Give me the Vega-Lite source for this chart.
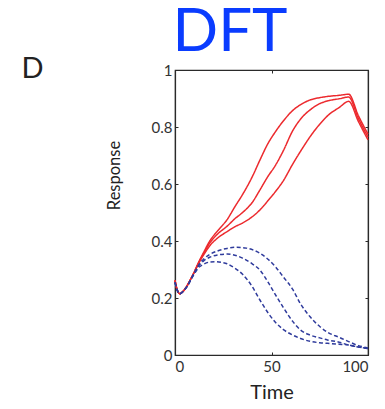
{
  "$schema": "https://vega.github.io/schema/vega-lite/v6.json",
  "width": 193,
  "height": 285,
  "autosize": "none",
  "padding": {"left": 175, "top": 70, "right": 17, "bottom": 54},
  "datasets": {
    "curves": [
      {"s": "R1", "g": "red", "x": 0, "y": 0.262}, {"s": "R1", "g": "red", "x": 1, "y": 0.232}, {"s": "R1", "g": "red", "x": 2.5, "y": 0.215}, {"s": "R1", "g": "red", "x": 4, "y": 0.222}, {"s": "R1", "g": "red", "x": 6, "y": 0.24}, {"s": "R1", "g": "red", "x": 8, "y": 0.265}, {"s": "R1", "g": "red", "x": 10, "y": 0.292},
      {"s": "R1", "g": "red", "x": 12, "y": 0.322}, {"s": "R1", "g": "red", "x": 15, "y": 0.362}, {"s": "R1", "g": "red", "x": 18, "y": 0.4}, {"s": "R1", "g": "red", "x": 22, "y": 0.435}, {"s": "R1", "g": "red", "x": 27, "y": 0.475}, {"s": "R1", "g": "red", "x": 31, "y": 0.52}, {"s": "R1", "g": "red", "x": 35, "y": 0.563}, {"s": "R1", "g": "red", "x": 40, "y": 0.625}, {"s": "R1", "g": "red", "x": 44, "y": 0.684}, {"s": "R1", "g": "red", "x": 48, "y": 0.74}, {"s": "R1", "g": "red", "x": 52, "y": 0.783}, {"s": "R1", "g": "red", "x": 56, "y": 0.82}, {"s": "R1", "g": "red", "x": 61, "y": 0.858}, {"s": "R1", "g": "red", "x": 66, "y": 0.882}, {"s": "R1", "g": "red", "x": 70, "y": 0.895}, {"s": "R1", "g": "red", "x": 75, "y": 0.903}, {"s": "R1", "g": "red", "x": 80, "y": 0.908}, {"s": "R1", "g": "red", "x": 85, "y": 0.911}, {"s": "R1", "g": "red", "x": 90, "y": 0.915}, {"s": "R1", "g": "red", "x": 95, "y": 0.84}, {"s": "R1", "g": "red", "x": 100, "y": 0.775},
      {"s": "R2", "g": "red", "x": 0, "y": 0.262}, {"s": "R2", "g": "red", "x": 1, "y": 0.232}, {"s": "R2", "g": "red", "x": 2.5, "y": 0.215}, {"s": "R2", "g": "red", "x": 4, "y": 0.222}, {"s": "R2", "g": "red", "x": 6, "y": 0.24}, {"s": "R2", "g": "red", "x": 8, "y": 0.265}, {"s": "R2", "g": "red", "x": 10, "y": 0.291},
      {"s": "R2", "g": "red", "x": 12, "y": 0.32}, {"s": "R2", "g": "red", "x": 15, "y": 0.358}, {"s": "R2", "g": "red", "x": 18, "y": 0.393}, {"s": "R2", "g": "red", "x": 22, "y": 0.424}, {"s": "R2", "g": "red", "x": 27, "y": 0.452}, {"s": "R2", "g": "red", "x": 31, "y": 0.478}, {"s": "R2", "g": "red", "x": 35, "y": 0.5}, {"s": "R2", "g": "red", "x": 40, "y": 0.535}, {"s": "R2", "g": "red", "x": 44, "y": 0.579}, {"s": "R2", "g": "red", "x": 48, "y": 0.625}, {"s": "R2", "g": "red", "x": 52, "y": 0.665}, {"s": "R2", "g": "red", "x": 56, "y": 0.715}, {"s": "R2", "g": "red", "x": 61, "y": 0.787}, {"s": "R2", "g": "red", "x": 66, "y": 0.835}, {"s": "R2", "g": "red", "x": 70, "y": 0.86}, {"s": "R2", "g": "red", "x": 75, "y": 0.882}, {"s": "R2", "g": "red", "x": 80, "y": 0.893}, {"s": "R2", "g": "red", "x": 85, "y": 0.899}, {"s": "R2", "g": "red", "x": 90, "y": 0.905}, {"s": "R2", "g": "red", "x": 95, "y": 0.83}, {"s": "R2", "g": "red", "x": 100, "y": 0.765},
      {"s": "R3", "g": "red", "x": 0, "y": 0.262}, {"s": "R3", "g": "red", "x": 1, "y": 0.232}, {"s": "R3", "g": "red", "x": 2.5, "y": 0.215}, {"s": "R3", "g": "red", "x": 4, "y": 0.222}, {"s": "R3", "g": "red", "x": 6, "y": 0.24}, {"s": "R3", "g": "red", "x": 8, "y": 0.264}, {"s": "R3", "g": "red", "x": 10, "y": 0.29},
      {"s": "R3", "g": "red", "x": 12, "y": 0.318}, {"s": "R3", "g": "red", "x": 15, "y": 0.353}, {"s": "R3", "g": "red", "x": 18, "y": 0.383}, {"s": "R3", "g": "red", "x": 22, "y": 0.41}, {"s": "R3", "g": "red", "x": 27, "y": 0.433}, {"s": "R3", "g": "red", "x": 31, "y": 0.45}, {"s": "R3", "g": "red", "x": 35, "y": 0.463}, {"s": "R3", "g": "red", "x": 40, "y": 0.485}, {"s": "R3", "g": "red", "x": 44, "y": 0.509}, {"s": "R3", "g": "red", "x": 48, "y": 0.54}, {"s": "R3", "g": "red", "x": 52, "y": 0.573}, {"s": "R3", "g": "red", "x": 56, "y": 0.61}, {"s": "R3", "g": "red", "x": 61, "y": 0.67}, {"s": "R3", "g": "red", "x": 66, "y": 0.725}, {"s": "R3", "g": "red", "x": 70, "y": 0.766}, {"s": "R3", "g": "red", "x": 75, "y": 0.81}, {"s": "R3", "g": "red", "x": 80, "y": 0.845}, {"s": "R3", "g": "red", "x": 85, "y": 0.868}, {"s": "R3", "g": "red", "x": 90, "y": 0.89}, {"s": "R3", "g": "red", "x": 95, "y": 0.82}, {"s": "R3", "g": "red", "x": 100, "y": 0.755},
      {"s": "B1", "g": "blue", "x": 0, "y": 0.255}, {"s": "B1", "g": "blue", "x": 1, "y": 0.23}, {"s": "B1", "g": "blue", "x": 2.5, "y": 0.215}, {"s": "B1", "g": "blue", "x": 4, "y": 0.222}, {"s": "B1", "g": "blue", "x": 6, "y": 0.238}, {"s": "B1", "g": "blue", "x": 8, "y": 0.262}, {"s": "B1", "g": "blue", "x": 10, "y": 0.288},
      {"s": "B1", "g": "blue", "x": 12, "y": 0.313}, {"s": "B1", "g": "blue", "x": 15, "y": 0.338}, {"s": "B1", "g": "blue", "x": 18, "y": 0.353}, {"s": "B1", "g": "blue", "x": 22, "y": 0.365}, {"s": "B1", "g": "blue", "x": 27, "y": 0.374}, {"s": "B1", "g": "blue", "x": 32, "y": 0.378}, {"s": "B1", "g": "blue", "x": 37, "y": 0.375}, {"s": "B1", "g": "blue", "x": 41, "y": 0.367}, {"s": "B1", "g": "blue", "x": 44, "y": 0.357}, {"s": "B1", "g": "blue", "x": 48, "y": 0.337}, {"s": "B1", "g": "blue", "x": 52, "y": 0.31}, {"s": "B1", "g": "blue", "x": 56, "y": 0.275}, {"s": "B1", "g": "blue", "x": 61, "y": 0.23}, {"s": "B1", "g": "blue", "x": 65, "y": 0.18}, {"s": "B1", "g": "blue", "x": 70, "y": 0.134}, {"s": "B1", "g": "blue", "x": 75, "y": 0.1}, {"s": "B1", "g": "blue", "x": 79, "y": 0.08}, {"s": "B1", "g": "blue", "x": 85, "y": 0.062}, {"s": "B1", "g": "blue", "x": 90, "y": 0.047}, {"s": "B1", "g": "blue", "x": 95, "y": 0.033}, {"s": "B1", "g": "blue", "x": 100, "y": 0.025},
      {"s": "B2", "g": "blue", "x": 0, "y": 0.255}, {"s": "B2", "g": "blue", "x": 1, "y": 0.23}, {"s": "B2", "g": "blue", "x": 2.5, "y": 0.215}, {"s": "B2", "g": "blue", "x": 4, "y": 0.222}, {"s": "B2", "g": "blue", "x": 6, "y": 0.238}, {"s": "B2", "g": "blue", "x": 8, "y": 0.262}, {"s": "B2", "g": "blue", "x": 10, "y": 0.287},
      {"s": "B2", "g": "blue", "x": 12, "y": 0.31}, {"s": "B2", "g": "blue", "x": 15, "y": 0.331}, {"s": "B2", "g": "blue", "x": 18, "y": 0.343}, {"s": "B2", "g": "blue", "x": 22, "y": 0.351}, {"s": "B2", "g": "blue", "x": 27, "y": 0.354}, {"s": "B2", "g": "blue", "x": 31, "y": 0.35}, {"s": "B2", "g": "blue", "x": 35, "y": 0.34}, {"s": "B2", "g": "blue", "x": 40, "y": 0.32}, {"s": "B2", "g": "blue", "x": 44, "y": 0.298}, {"s": "B2", "g": "blue", "x": 48, "y": 0.258}, {"s": "B2", "g": "blue", "x": 52, "y": 0.212}, {"s": "B2", "g": "blue", "x": 56, "y": 0.168}, {"s": "B2", "g": "blue", "x": 61, "y": 0.118}, {"s": "B2", "g": "blue", "x": 65, "y": 0.088}, {"s": "B2", "g": "blue", "x": 70, "y": 0.07}, {"s": "B2", "g": "blue", "x": 75, "y": 0.06}, {"s": "B2", "g": "blue", "x": 79, "y": 0.053}, {"s": "B2", "g": "blue", "x": 85, "y": 0.045}, {"s": "B2", "g": "blue", "x": 90, "y": 0.035}, {"s": "B2", "g": "blue", "x": 95, "y": 0.028}, {"s": "B2", "g": "blue", "x": 100, "y": 0.023},
      {"s": "B3", "g": "blue", "x": 0, "y": 0.255}, {"s": "B3", "g": "blue", "x": 1, "y": 0.23}, {"s": "B3", "g": "blue", "x": 2.5, "y": 0.215}, {"s": "B3", "g": "blue", "x": 4, "y": 0.222}, {"s": "B3", "g": "blue", "x": 6, "y": 0.238}, {"s": "B3", "g": "blue", "x": 8, "y": 0.261}, {"s": "B3", "g": "blue", "x": 10, "y": 0.285},
      {"s": "B3", "g": "blue", "x": 12, "y": 0.305}, {"s": "B3", "g": "blue", "x": 15, "y": 0.319}, {"s": "B3", "g": "blue", "x": 18, "y": 0.326}, {"s": "B3", "g": "blue", "x": 21, "y": 0.327}, {"s": "B3", "g": "blue", "x": 24, "y": 0.325}, {"s": "B3", "g": "blue", "x": 27, "y": 0.32}, {"s": "B3", "g": "blue", "x": 31, "y": 0.305}, {"s": "B3", "g": "blue", "x": 35, "y": 0.283}, {"s": "B3", "g": "blue", "x": 40, "y": 0.24}, {"s": "B3", "g": "blue", "x": 44, "y": 0.193}, {"s": "B3", "g": "blue", "x": 48, "y": 0.15}, {"s": "B3", "g": "blue", "x": 52, "y": 0.115}, {"s": "B3", "g": "blue", "x": 56, "y": 0.09}, {"s": "B3", "g": "blue", "x": 61, "y": 0.07}, {"s": "B3", "g": "blue", "x": 65, "y": 0.058}, {"s": "B3", "g": "blue", "x": 70, "y": 0.048}, {"s": "B3", "g": "blue", "x": 75, "y": 0.043}, {"s": "B3", "g": "blue", "x": 79, "y": 0.041}, {"s": "B3", "g": "blue", "x": 85, "y": 0.038}, {"s": "B3", "g": "blue", "x": 90, "y": 0.035}, {"s": "B3", "g": "blue", "x": 95, "y": 0.028}, {"s": "B3", "g": "blue", "x": 100, "y": 0.022}
    ],
    "panel": [{"label": "D"}],
    "heading": [{"label": "DFT"}]
  },
  "layer": [
    {
      "data": {"name": "curves"},
      "mark": {"type": "line", "strokeWidth": 1.5, "interpolate": "monotone"},
      "encoding": {
        "x": {"field": "x", "type": "quantitative", "scale": {"domain": [0, 100], "nice": false}, "axis": {"orient": "bottom", "values": [0, 50, 100], "format": "d", "labelPadding": 7, "title": "Time", "titleFontSize": 20, "titlePadding": 8}},
        "y": {"field": "y", "type": "quantitative", "scale": {"domain": [0, 1], "nice": false}, "axis": {"orient": "left", "values": [0, 0.2, 0.4, 0.6, 0.8, 1], "format": "~g", "labelPadding": 6, "title": "Response", "titleFontSize": 16.5, "titleX": -53, "titleY": 105, "titleBaseline": "bottom"}},
        "detail": {"field": "s"},
        "color": {"field": "g", "type": "nominal", "scale": {"domain": ["red", "blue"], "range": ["#ec2a2e", "#2f3b9c"]}, "legend": null},
        "strokeDash": {"field": "g", "type": "nominal", "scale": {"domain": ["red", "blue"], "range": [[1, 0], [4, 2.5]]}, "legend": null}
      }
    },
    {
      "data": {"name": "curves"},
      "mark": {"type": "line", "opacity": 0},
      "encoding": {
        "x": {"field": "x", "type": "quantitative", "axis": {"orient": "top", "values": [0, 50, 100], "labels": false, "title": null}},
        "y": {"field": "y", "type": "quantitative", "axis": {"orient": "right", "values": [0, 0.2, 0.4, 0.6, 0.8, 1], "labels": false, "title": null}},
        "detail": {"field": "s"}
      }
    },
    {
      "data": {"name": "panel"},
      "mark": {"type": "text", "align": "left", "baseline": "alphabetic", "font": "Lato", "fontSize": 29, "color": "#222"},
      "encoding": {
        "x": {"datum": -79.5, "type": "quantitative", "axis": null},
        "y": {"datum": 0.972, "type": "quantitative", "axis": null},
        "text": {"field": "label"}
      }
    },
    {
      "data": {"name": "heading"},
      "mark": {"type": "text", "align": "center", "baseline": "alphabetic", "font": "Lato", "fontSize": 60, "color": "#0a3cff"},
      "encoding": {
        "x": {"datum": 28.5, "type": "quantitative", "axis": null},
        "y": {"datum": 1.067, "type": "quantitative", "axis": null},
        "text": {"field": "label"}
      }
    }
  ],
  "resolve": {"axis": {"x": "independent", "y": "independent"}},
  "config": {
    "view": {"stroke": "#2a2a2a", "strokeWidth": 1.2},
    "axis": {"grid": false, "domainColor": "#2a2a2a", "domainWidth": 1.2, "tickColor": "#2a2a2a", "tickSize": -3, "labelFont": "Lato", "labelFontSize": 15, "labelColor": "#333", "titleFont": "Lato", "titleFontWeight": "normal", "titleColor": "#222"}
  }
}
